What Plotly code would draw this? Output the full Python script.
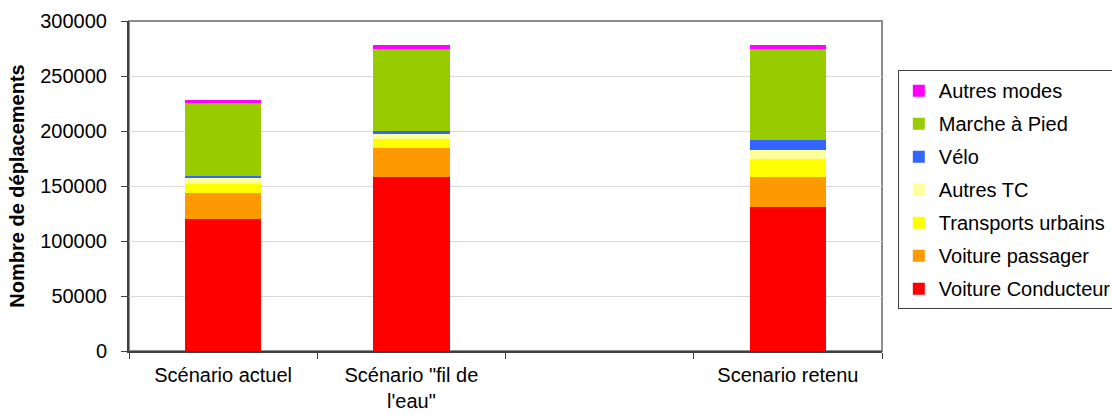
import plotly.graph_objects as go

# Scenario labels (third slot intentionally left blank)
scenarios = ["Scénario actuel", "Scénario \"fil de<br>l'eau\"", " ", "Scenario retenu"]

# Trips per mode, one value per scenario slot
voiture_conducteur = [120000, 158500, None, 131200]
voiture_passager = [23600, 25900, None, 27300]
transports_urbains = [8200, 8600, None, 16300]
autres_tc = [5400, 4500, None, 8200]
velo = [1900, 2800, None, 9100]
marche_a_pied = [66100, 74500, None, 82700]
autres_modes = [3000, 3700, None, 3700]

modes = ["Voiture Conducteur", "Voiture passager", "Transports urbains",
         "Autres TC", "Vélo", "Marche à Pied", "Autres modes"]
series = [voiture_conducteur, voiture_passager, transports_urbains,
          autres_tc, velo, marche_a_pied, autres_modes]
colors = ["#FF0000", "#FF9900", "#FFFF00", "#FFFF99", "#3366FF", "#99CC00", "#FF00FF"]

y_ticks = [0, 50000, 100000, 150000, 200000, 250000, 300000]

FONT = "Arial, 'Liberation Sans', sans-serif"

fig = go.Figure()
for i, (name, vals, col) in enumerate(zip(modes, series, colors)):
    fig.add_trace(go.Bar(
        x=scenarios, y=vals, name=name, legendgroup=name,
        legendrank=100 - i,  # top of the stack listed first
        marker=dict(color=col, line=dict(width=0)),
    ))

fig.update_layout(
    barmode="stack",
    bargap=0.595,
    width=1112, height=415,
    margin=dict(l=129, r=230, t=21, b=64, autoexpand=False),
    paper_bgcolor="white", plot_bgcolor="white",
    font=dict(family=FONT, size=20, color="#000000"),
    showlegend=True,
    legend=dict(
        x=1.021, xanchor="left", y=0.851, yanchor="top",
        traceorder="grouped", tracegroupgap=4,
        bordercolor="#404040", borderwidth=1,
        font=dict(family=FONT, size=20, color="#000000"),
        itemwidth=30,
    ),
    shapes=[dict(type="rect", xref="paper", yref="paper", x0=0, x1=1, y0=0, y1=1,
                 line=dict(color="#8c8c8c", width=2), layer="below")],
)

fig.update_xaxes(
    type="category", categoryorder="array", categoryarray=scenarios,
    range=[-0.5, 3.5],
    showline=True, linecolor="#404040", linewidth=2,
    ticks="outside", tickson="boundaries", ticklen=6, tickcolor="#404040", tickwidth=1,
    showgrid=False, tickfont=dict(size=20), ticklabelstandoff=5,
)
fig.update_yaxes(
    range=[0, 300000], tickvals=y_ticks, ticktext=[str(v) for v in y_ticks],
    showline=True, linecolor="#404040", linewidth=2,
    ticks="outside", ticklen=6, tickcolor="#404040", tickwidth=1,
    showgrid=True, gridcolor="#d9d9d9", gridwidth=1, zeroline=False,
    tickfont=dict(size=20), ticklabelstandoff=10,
    title=dict(text="<b>Nombre de déplacements</b>", font=dict(size=20), standoff=10),
)

fig.write_html("out.html")
